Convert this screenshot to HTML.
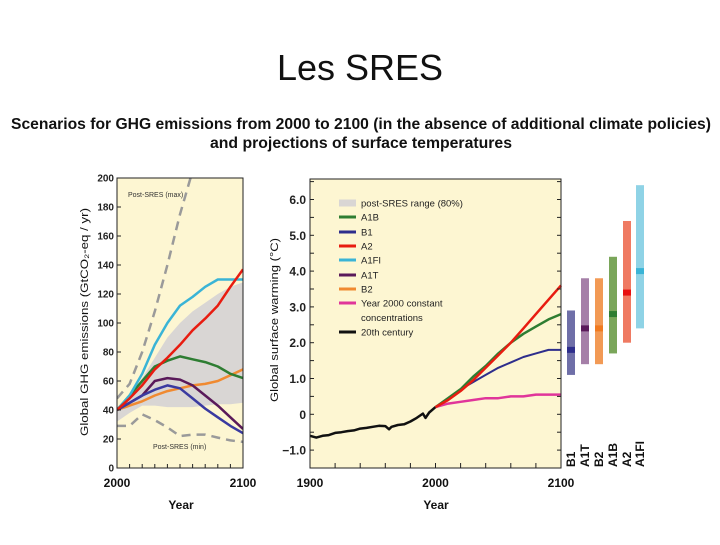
<!DOCTYPE html>
<html><head><meta charset="utf-8"><style>
body{margin:0;background:#fff;width:720px;height:540px;overflow:hidden;font-family:"Liberation Sans",sans-serif}
svg text{font-family:"Liberation Sans",sans-serif}
</style></head><body>
<svg id="s" width="720" height="540" xmlns="http://www.w3.org/2000/svg">
<text x="360" y="80" font-size="36" text-anchor="middle" fill="#111">Les SRES</text>
<text x="361" y="129" font-size="16" font-weight="bold" text-anchor="middle" textLength="700" lengthAdjust="spacingAndGlyphs" fill="#111">Scenarios for GHG emissions from 2000 to 2100 (in the absence of additional climate policies)</text>
<text x="361" y="148" font-size="16" font-weight="bold" text-anchor="middle" textLength="302" lengthAdjust="spacingAndGlyphs" fill="#111">and projections of surface temperatures</text>
<g id="left"></g>
<g id="right"></g>
<g id="bars"></g>
</svg>
<script>
// Left chart data (GtCO2-eq/yr)
const emYears = [2000,2010,2020,2030,2040,2050,2060,2070,2080,2090,2100];
const emA1FI = [40,50,65,85,100,112,118,125,130,130,130];
const emA2 = [40,48,57,68,76,85,95,103,112,125,137];
const emA1B = [40,50,60,70,74,77,75,73,70,65,62];
const emA1T = [40,45,50,60,62,61,57,50,43,35,27];
const emB1 = [40,45,50,54,57,55,48,41,35,29,24];
const emB2 = [40,43,46,50,53,55,57,58,60,64,68];
const emMaxYears = [2000,2010,2020,2030,2040,2050,2060];
const emMax = [48,58,80,108,140,175,205];
const emMin = [29,29,37,33,28,22,23,23,21,19,18];
const rangeUpper = [42,50,62,76,90,100,108,114,120,125,128];
const rangeLower = [32,38,43,43,42,42,42,43,44,44,45];
const emTicks = [0,20,40,60,80,100,120,140,160,180,200];

// Right chart data (°C)
const histYears = [1900,1905,1910,1915,1920,1925,1930,1935,1940,1945,1950,1955,1960,1963,1965,1970,1975,1980,1985,1990,1992,1995,2000];
const hist = [-0.6,-0.65,-0.6,-0.58,-0.52,-0.5,-0.47,-0.45,-0.4,-0.38,-0.35,-0.32,-0.33,-0.42,-0.35,-0.3,-0.28,-0.2,-0.1,0.02,-0.1,0.05,0.2];
const tYears = [2000,2010,2020,2030,2040,2050,2060,2070,2080,2090,2100];
const tA2 = [0.2,0.4,0.65,0.95,1.3,1.65,2.0,2.4,2.8,3.2,3.6];
const tA1B = [0.2,0.45,0.7,1.05,1.35,1.7,2.0,2.25,2.45,2.65,2.8];
const tB1 = [0.2,0.45,0.7,0.9,1.1,1.3,1.45,1.6,1.7,1.8,1.8];
const tConst = [0.2,0.3,0.35,0.4,0.45,0.45,0.5,0.5,0.55,0.55,0.55];
const tTicks = [-1,0,1,2,3,4,5,6];
const tTickLabels = ["\u22121.0","0","1.0","2.0","3.0","4.0","5.0","6.0"];

// Bars
const barNames = ["B1","A1T","B2","A1B","A2","A1FI"];
const barLow = [1.1,1.4,1.4,1.7,2.0,2.4];
const barHigh = [2.9,3.8,3.8,4.4,5.4,6.4];
const barBest = [1.8,2.4,2.4,2.8,3.4,4.0];
const barColors = ["#6f6fa8","#a57fa8","#f29a55","#7aa65a","#ef7a62","#8fd3e6"];
const barBestColors = ["#2e2e8c","#5a1a5a","#f07a20","#2e7d32","#e81010","#3ab4d6"];

const NS="http://www.w3.org/2000/svg";
function mk(parent,tag,attrs,txt){const e=document.createElementNS(NS,tag);for(const k in attrs)e.setAttribute(k,attrs[k]);if(txt!==undefined)e.textContent=txt;parent.appendChild(e);return e;}

// ---------- Left chart ----------
const L=document.getElementById('left');
const lx=y=>117+(y-2000)*(243-117)/100;
const ly=v=>468-v*1.45;
let e=mk(L,'rect',{x:117,y:178,width:126,height:290,fill:'#fdf6d2'});


let pts=emYears.map((y,i)=>lx(y)+','+ly(rangeUpper[i])).concat(emYears.slice().reverse().map((y,i)=>lx(y)+','+ly(rangeLower[emYears.length-1-i])));
e=mk(L,'polygon',{points:pts.join(' '),fill:'#d9d6d4'});


function line(g,xs,ys,fx,fy,color,w,name,dash){
 const d=xs.map((x,i)=>(i?'L':'M')+fx(x).toFixed(1)+' '+fy(ys[i]).toFixed(1)).join(' ');
 const p=mk(g,'path',{d:d,fill:'none',stroke:color,'stroke-width':w,'stroke-linejoin':'round'});
 if(dash)p.setAttribute('stroke-dasharray',dash);
 
 
 return p;
}
const clipL=mk(L,'clipPath',{id:'cl'});mk(clipL,'rect',{x:117,y:178,width:126,height:290});
const gl=mk(L,'g',{'clip-path':'url(#cl)'});
line(gl,emMaxYears,emMax,lx,ly,'#9a9a9a',2.5,'post-sres-max-line','9 6');
line(gl,emYears,emMin,lx,ly,'#9a9a9a',2.5,'post-sres-min-line','9 6');
line(gl,emYears,emB2,lx,ly,'#f08a30',2.5,'series-b2');
line(gl,emYears,emA1T,lx,ly,'#5a1a5a',2.5,'series-a1t');
line(gl,emYears,emB1,lx,ly,'#3a3aa0',2.5,'series-b1');
line(gl,emYears,emA1B,lx,ly,'#2e7d32',2.5,'series-a1b');
line(gl,emYears,emA1FI,lx,ly,'#3ab4d6',2.5,'series-a1fi');
line(gl,emYears,emA2,lx,ly,'#e81c10',2.5,'series-a2');
mk(L,'rect',{x:117,y:178,width:126,height:290,fill:'none',stroke:'#222','stroke-width':1});
emTicks.forEach(v=>{mk(L,'line',{x1:117,x2:121,y1:ly(v),y2:ly(v),stroke:'#222'});
 const t=mk(L,'text',{x:114,y:ly(v)+3.5,'font-size':10,'font-weight':'bold','text-anchor':'end',fill:'#222'},String(v));
 
 });
for(let y=2010;y<2100;y+=10)mk(L,'line',{x1:lx(y),x2:lx(y),y1:468,y2:464,stroke:'#222'});
mk(L,'text',{x:117,y:487,'font-size':12,'font-weight':'bold','text-anchor':'middle',fill:'#111'},'2000');
mk(L,'text',{x:243,y:487,'font-size':12,'font-weight':'bold','text-anchor':'middle',fill:'#111'},'2100');
e=mk(L,'text',{x:181,y:509,'font-size':12,'font-weight':'bold','text-anchor':'middle',fill:'#111'},'Year');


e=mk(L,'text',{x:0,y:0,'font-size':11,'text-anchor':'middle',fill:'#111',transform:'translate(88,322) rotate(-90)',textLength:228,lengthAdjust:'spacingAndGlyphs'},'Global GHG emissions (GtCO\u2082-eq / yr)');


mk(L,'text',{x:128,y:197,'font-size':7,fill:'#333'},'Post-SRES (max)');
mk(L,'text',{x:153,y:449,'font-size':7,fill:'#333'},'Post-SRES (min)');

// ---------- Right chart ----------
const R=document.getElementById('right');
const rx=y=>310+(y-1900)*(561-310)/200;
const ry=v=>414.3-v*35.8;
e=mk(R,'rect',{x:310,y:179,width:251,height:289,fill:'#fdf6d2'});


line(R,histYears,hist,rx,ry,'#111',2.5,'series-20th-century');
line(R,tYears,tConst,rx,ry,'#e0359a',2.5,'series-constant-concentrations');
line(R,tYears,tB1,rx,ry,'#2e2e8c',2,'series-b1-temp');
line(R,tYears,tA1B,rx,ry,'#2e7d32',2.5,'series-a1b-temp');
line(R,tYears,tA2,rx,ry,'#e81c10',2.5,'series-a2-temp');
mk(R,'rect',{x:310,y:179,width:251,height:289,fill:'none',stroke:'#222','stroke-width':1});
for(let v=-1.5;v<=7;v+=0.5){const yy=ry(v);if(yy<179||yy>468)continue;mk(R,'line',{x1:310,x2:314,y1:yy,y2:yy,stroke:'#222'});mk(R,'line',{x1:557,x2:561,y1:yy,y2:yy,stroke:'#222'});}
tTicks.forEach((v,i)=>{const t=mk(R,'text',{x:306,y:ry(v)+4.5,'font-size':12,'font-weight':'bold','text-anchor':'end',fill:'#222'},tTickLabels[i]);
 
 });
for(let y=1920;y<2100;y+=20)mk(R,'line',{x1:rx(y),x2:rx(y),y1:468,y2:463,stroke:'#222'});
[[1900,'1900'],[2000,'2000'],[2100,'2100']].forEach(a=>mk(R,'text',{x:rx(a[0]),y:487,'font-size':12,'font-weight':'bold','text-anchor':'middle',fill:'#111'},a[1]));
e=mk(R,'text',{x:436,y:509,'font-size':12,'font-weight':'bold','text-anchor':'middle',fill:'#111'},'Year');


e=mk(R,'text',{x:0,y:0,'font-size':11,'text-anchor':'middle',fill:'#111',transform:'translate(278,320) rotate(-90)',textLength:164,lengthAdjust:'spacingAndGlyphs'},'Global surface warming (\u00B0C)');


const legNames=['post-SRES range (80%)','A1B','B1','A2','A1FI','A1T','B2','Year 2000 constant','20th century'];
const legCols=['#d9d6d4','#2e7d32','#2e2e8c','#e81c10','#3ab4d6','#5a1a5a','#f08a30','#e0359a','#111'];
const legY=[203,217,232,246,260,275,289,303,332];
legNames.forEach((n,i)=>{const g=mk(R,'g',{});
 
 
 mk(g,'rect',{x:339,y:legY[i]-(i?1.5:3.5),width:17,height:i?3:7,fill:legCols[i]});
 mk(g,'text',{x:361,y:legY[i]+3.5,'font-size':9.5,fill:'#222'},n);});
mk(R,'text',{x:361,y:321,'font-size':9.5,fill:'#222'},'concentrations');

// ---------- Bars ----------
const B=document.getElementById('bars');
const bx=[571,585,599,613,627,640];
barNames.forEach((n,i)=>{
 const r=mk(B,'rect',{x:bx[i]-4,y:ry(barHigh[i]),width:8,height:ry(barLow[i])-ry(barHigh[i]),fill:barColors[i]});
 
 
 mk(B,'rect',{x:bx[i]-4,y:ry(barBest[i])-3,width:8,height:6,fill:barBestColors[i]});
 const t=mk(B,'text',{x:0,y:0,'font-size':12,'font-weight':'bold',fill:'#111',transform:'translate('+(bx[i]+4)+',467) rotate(-90)'},n);
 
 
});
</script>
</body></html>
